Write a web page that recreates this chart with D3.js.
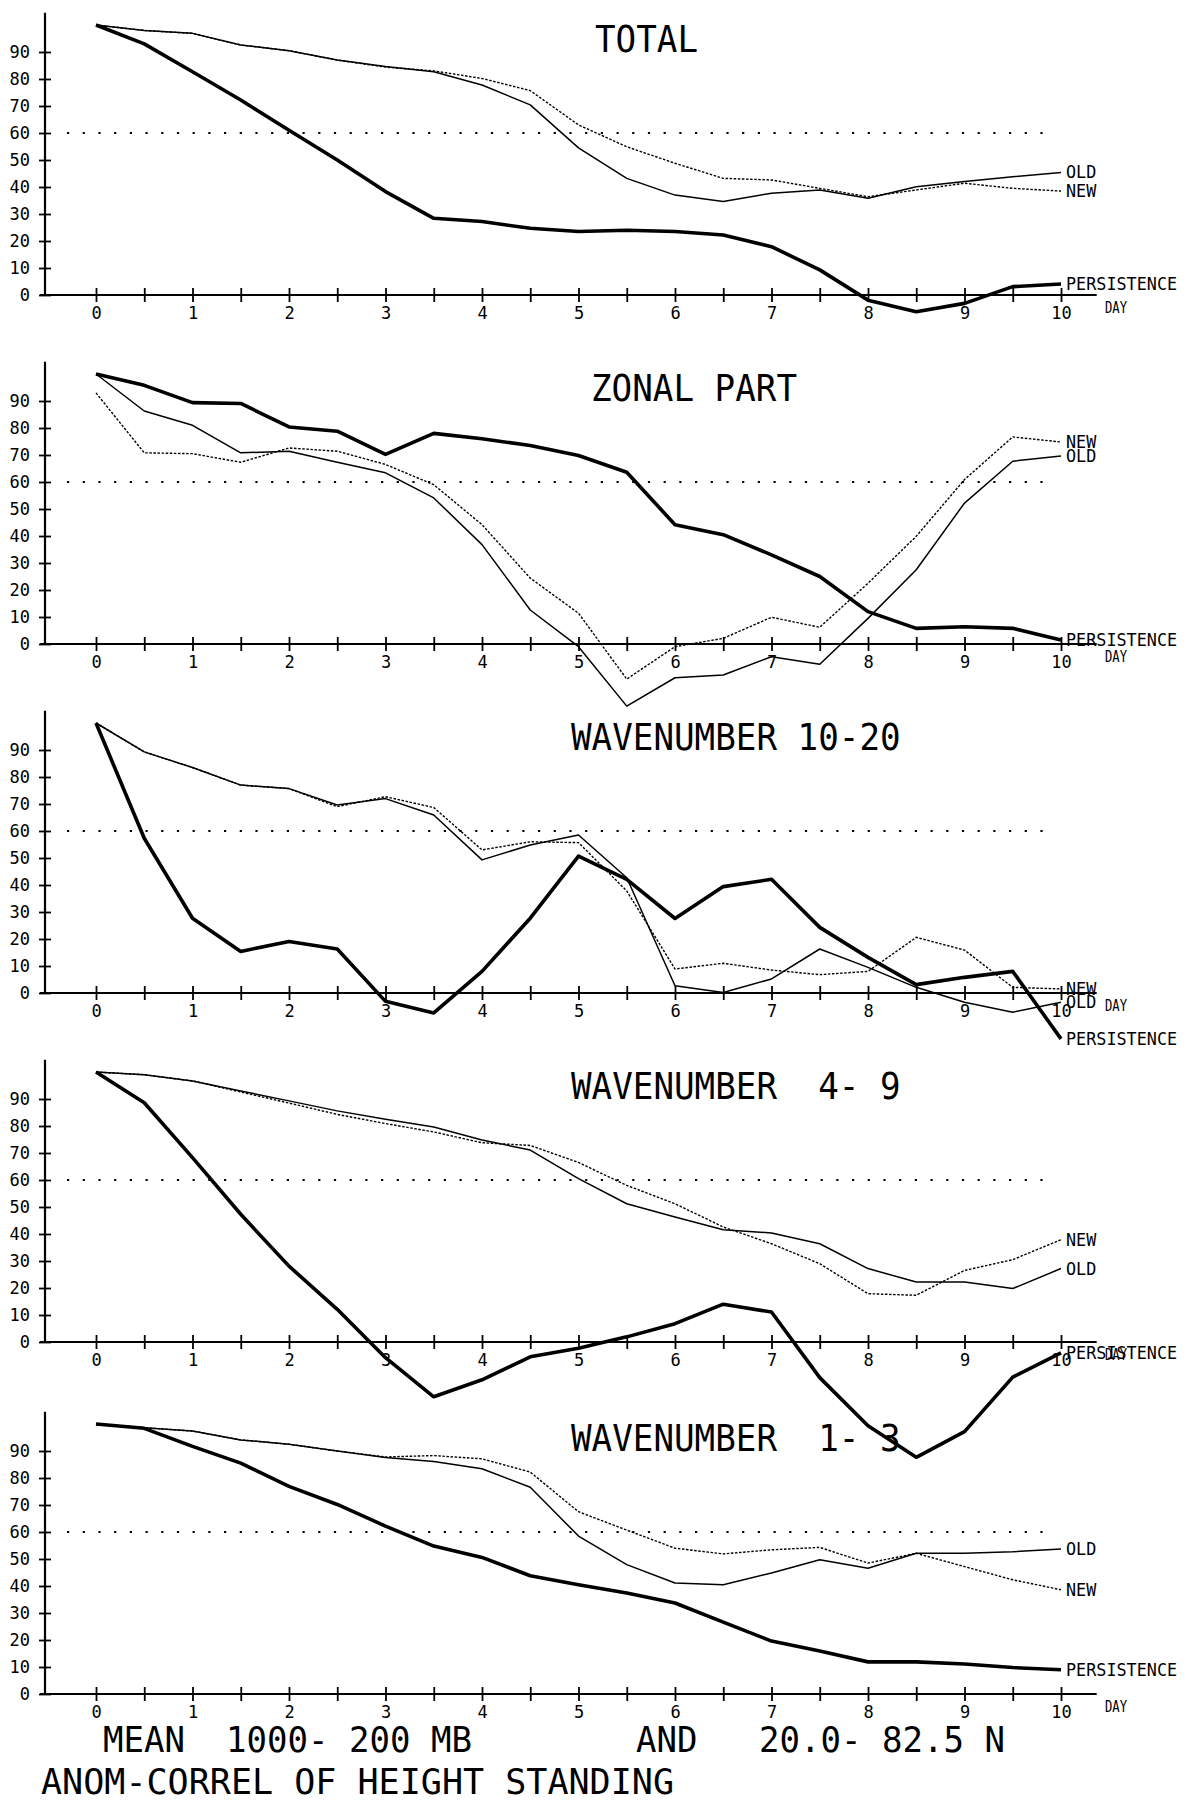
<!DOCTYPE html>
<html>
<head>
<meta charset="utf-8">
<script src="https://cdn.jsdelivr.net/npm/d3@7"></script>
<style>
  body { margin: 0; background: #fff; }
  svg text { font-family: "DejaVu Sans Mono", "Liberation Mono", monospace; fill: #000; white-space: pre; }
</style>
</head>
<body>
<div id="chart"></div>
<script>
// forecast day, every half day
const days = [0, 0.5, 1, 1.5, 2, 2.5, 3, 3.5, 4, 4.5, 5, 5.5, 6, 6.5, 7, 7.5, 8, 8.5, 9, 9.5, 10];
const yTicks = [0, 10, 20, 30, 40, 50, 60, 70, 80, 90];
const refLevel = 60;

const titles = ["TOTAL", "ZONAL PART", "WAVENUMBER 10-20", "WAVENUMBER  4- 9", "WAVENUMBER  1- 3"];

// anomaly correlation (%)
const totalOld  = [100, 98, 96.9, 92.6, 90.5, 87, 84.6, 82.7, 77.8, 70.4, 54.5, 43.2, 37, 34.6, 37.7, 38.9, 35.8, 40.1, 42, 43.8, 45.4];
const totalNew  = [100, 98, 96.9, 92.6, 90.5, 87, 84.4, 83, 80.2, 75.7, 63, 54.9, 48.8, 43.2, 42.6, 39.5, 36.4, 38.9, 41.4, 39.5, 38.5];
const totalPers = [100, 93, 82.7, 72.2, 61, 50, 38.3, 28.4, 27.2, 24.7, 23.5, 24, 23.5, 22.2, 17.9, 9.3, -1.9, -6.2, -3.1, 3.1, 4.1];

const zonalOld  = [100, 86.3, 81, 70.8, 71.4, 67.3, 63.4, 54.1, 36.8, 12.6, -1, -23, -12.5, -11.5, -4.7, -7.5, 9.5, 27.5, 52.2, 67.7, 69.6];
const zonalNew  = [93, 70.8, 70.5, 67.3, 72.6, 71.4, 66.5, 59, 44.2, 24.4, 11.4, -13, -1, 2.1, 9.9, 6.2, 22.5, 39.9, 60.9, 76.7, 74.8];
const zonalPers = [100, 95.8, 89.4, 89.1, 80.4, 78.8, 70.2, 78, 76, 73.5, 69.8, 63.6, 44.2, 40.5, 33, 25, 12, 5.8, 6.4, 5.8, 1.5];

const w1020Old  = [100, 89.3, 83.5, 77, 75.7, 69.6, 72, 65.9, 49.3, 54.8, 58.5, 42.7, 2.7, 0.2, 5.2, 16.3, 9.5, 2.1, -3.4, -7.1, -3.4];
const w1020New  = [100, 89.3, 83.5, 77, 75.7, 69, 72.7, 68.7, 53, 56, 55.7, 37.8, 8.9, 11, 8.5, 6.8, 8, 20.6, 15.9, 2.1, 1.5];
const w1020Pers = [100, 57.3, 27.7, 15.4, 19.1, 16.3, -3.1, -7.4, 8, 27.7, 50.7, 42.1, 27.6, 39.4, 42.1, 24.3, 13.2, 3.1, 5.8, 8, -17];

const w49Old  = [100, 99, 96.7, 93, 89.3, 85.6, 82.5, 79.6, 74.8, 71.1, 60.5, 51.2, 46.3, 41.6, 40.4, 36.4, 27.2, 22.2, 22.2, 19.8, 27.2];
const w49New  = [100, 99, 96.7, 92.6, 88.5, 84.3, 80.9, 77.8, 73.8, 72.8, 66.5, 58, 51.2, 42.6, 36.4, 29, 17.9, 17.3, 26.5, 30.5, 37.9];
const w49Pers = [100, 88.6, 68.3, 47.3, 28.1, 12.1, -5.8, -20.3, -14, -5.5, -2.3, 1.9, 6.8, 14, 11.1, -13.2, -31, -42.7, -33.2, -13, -4];

const w13Old  = [100, 98.6, 97.4, 94.1, 92.5, 90, 87.6, 86.1, 83.4, 76.6, 58.5, 47.9, 41.1, 40.5, 44.8, 49.7, 46.6, 52.1, 52.1, 52.7, 53.7];
const w13New  = [100, 98.6, 97.4, 94.1, 92.5, 90, 87.8, 88.3, 87.1, 82.2, 67.5, 60.7, 54, 51.9, 53.4, 54.3, 48.5, 52.1, 47.2, 42.3, 38.6];
const w13Pers = [100, 98.4, 91.7, 85.5, 76.9, 70.2, 62.2, 54.8, 50.6, 43.8, 40.5, 37.4, 33.7, 26.6, 19.6, 15.9, 11.9, 11.9, 11.1, 9.8, 9];

const footer1 = "MEAN  1000- 200 MB        AND   20.0- 82.5 N";
const footer2 = "ANOM-CORREL OF HEIGHT STANDING";

const panels = [
    {title: titles[0], old: totalOld, nw: totalNew, pers: totalPers},
    {title: titles[1], old: zonalOld, nw: zonalNew, pers: zonalPers},
    {title: titles[2], old: w1020Old, nw: w1020New, pers: w1020Pers},
    {title: titles[3], old: w49Old, nw: w49New, pers: w49Pers},
    {title: titles[4], old: w13Old, nw: w13New, pers: w13Pers}
];

// layout
const W = 1188, H = 1804;
const zeroY = [295, 644, 993, 1342, 1694];
const titleX = [595, 591, 571, 571, 571];
const axisX = 45;

const svg = d3.select("#chart").append("svg")
    .attr("width", W)
    .attr("height", H)
    .style("display", "block");

svg.append("rect").attr("width", W).attr("height", H).attr("fill", "#fff");

const x = d3.scaleLinear().domain([0, 10]).range([96, 1061]);

panels.forEach(function(p, i) {
    const y = d3.scaleLinear().domain([0, 100]).range([zeroY[i], zeroY[i] - 270]);
    const g = svg.append("g");

    // title
    g.append("text")
        .attr("x", titleX[i])
        .attr("y", y(90))
        .attr("font-size", 38)
        .attr("textLength", p.title.length * 20.6)
        .attr("lengthAdjust", "spacingAndGlyphs")
        .text(p.title);

    // dotted 60% line
    g.append("line")
        .attr("x1", 67).attr("x2", 1047)
        .attr("y1", y(refLevel)).attr("y2", y(refLevel))
        .attr("stroke", "#000")
        .attr("stroke-width", 2.2)
        .attr("stroke-dasharray", "2.2,13.5");

    // x axis
    const gx = g.append("g")
        .attr("transform", "translate(0," + y(0) + ")")
        .call(d3.axisBottom(x).tickValues(days)
            .tickFormat(function(d) { return Number.isInteger(d) ? d : ""; }));
    gx.select(".domain").remove();
    gx.selectAll(".tick line").attr("y1", -7).attr("y2", 7).attr("stroke-width", 1.8);
    gx.selectAll(".tick text").attr("y", 24).attr("dy", 0).attr("font-size", 17);
    g.append("line")
        .attr("x1", x(-0.58)).attr("x2", x(10.37))
        .attr("y1", y(0)).attr("y2", y(0))
        .attr("stroke", "#000").attr("stroke-width", 2.2);

    // y axis
    const gy = g.append("g")
        .attr("transform", "translate(" + axisX + ",0)")
        .call(d3.axisLeft(y).tickValues(yTicks).tickFormat(d3.format("d")));
    gy.select(".domain").remove();
    gy.selectAll(".tick line").attr("x1", -6).attr("x2", 6).attr("stroke-width", 1.8);
    gy.selectAll(".tick text").attr("x", -15).attr("font-size", 17);
    g.append("line")
        .attr("x1", axisX).attr("x2", axisX)
        .attr("y1", y(0)).attr("y2", y(104.5))
        .attr("stroke", "#000").attr("stroke-width", 2.2);

    g.append("text")
        .attr("x", 1105).attr("y", y(0) + 18)
        .attr("font-size", 15)
        .attr("textLength", 22).attr("lengthAdjust", "spacingAndGlyphs")
        .text("DAY");

    const line = d3.line()
        .x(function(d, j) { return x(days[j]); })
        .y(function(d) { return y(d); });

    g.append("path").datum(p.nw)
        .attr("d", line).attr("fill", "none")
        .attr("stroke", "#000").attr("stroke-width", 1.4)
        .attr("stroke-dasharray", "2.5,1.6");

    g.append("path").datum(p.old)
        .attr("d", line).attr("fill", "none")
        .attr("stroke", "#000").attr("stroke-width", 1.5)
        .attr("stroke-linejoin", "round");

    g.append("path").datum(p.pers)
        .attr("d", line).attr("fill", "none")
        .attr("stroke", "#000").attr("stroke-width", 3.6)
        .attr("stroke-linejoin", "round");

    // labels at line ends
    [["OLD", p.old], ["NEW", p.nw], ["PERSISTENCE", p.pers]].forEach(function(l) {
        g.append("text")
            .attr("x", x(10) + 5)
            .attr("y", y(l[1][l[1].length - 1]) + 6)
            .attr("font-size", 17)
            .attr("textLength", l[0].length * 10.1)
            .attr("lengthAdjust", "spacingAndGlyphs")
            .text(l[0]);
    });
});

// footer
svg.append("text")
    .attr("x", 103).attr("y", 1752)
    .attr("font-size", 35)
    .attr("textLength", footer1.length * 20.5)
    .attr("lengthAdjust", "spacingAndGlyphs")
    .text(footer1);

svg.append("text")
    .attr("x", 41).attr("y", 1794)
    .attr("font-size", 35)
    .attr("textLength", footer2.length * 21.1)
    .attr("lengthAdjust", "spacingAndGlyphs")
    .text(footer2);
</script>
</body>
</html>
